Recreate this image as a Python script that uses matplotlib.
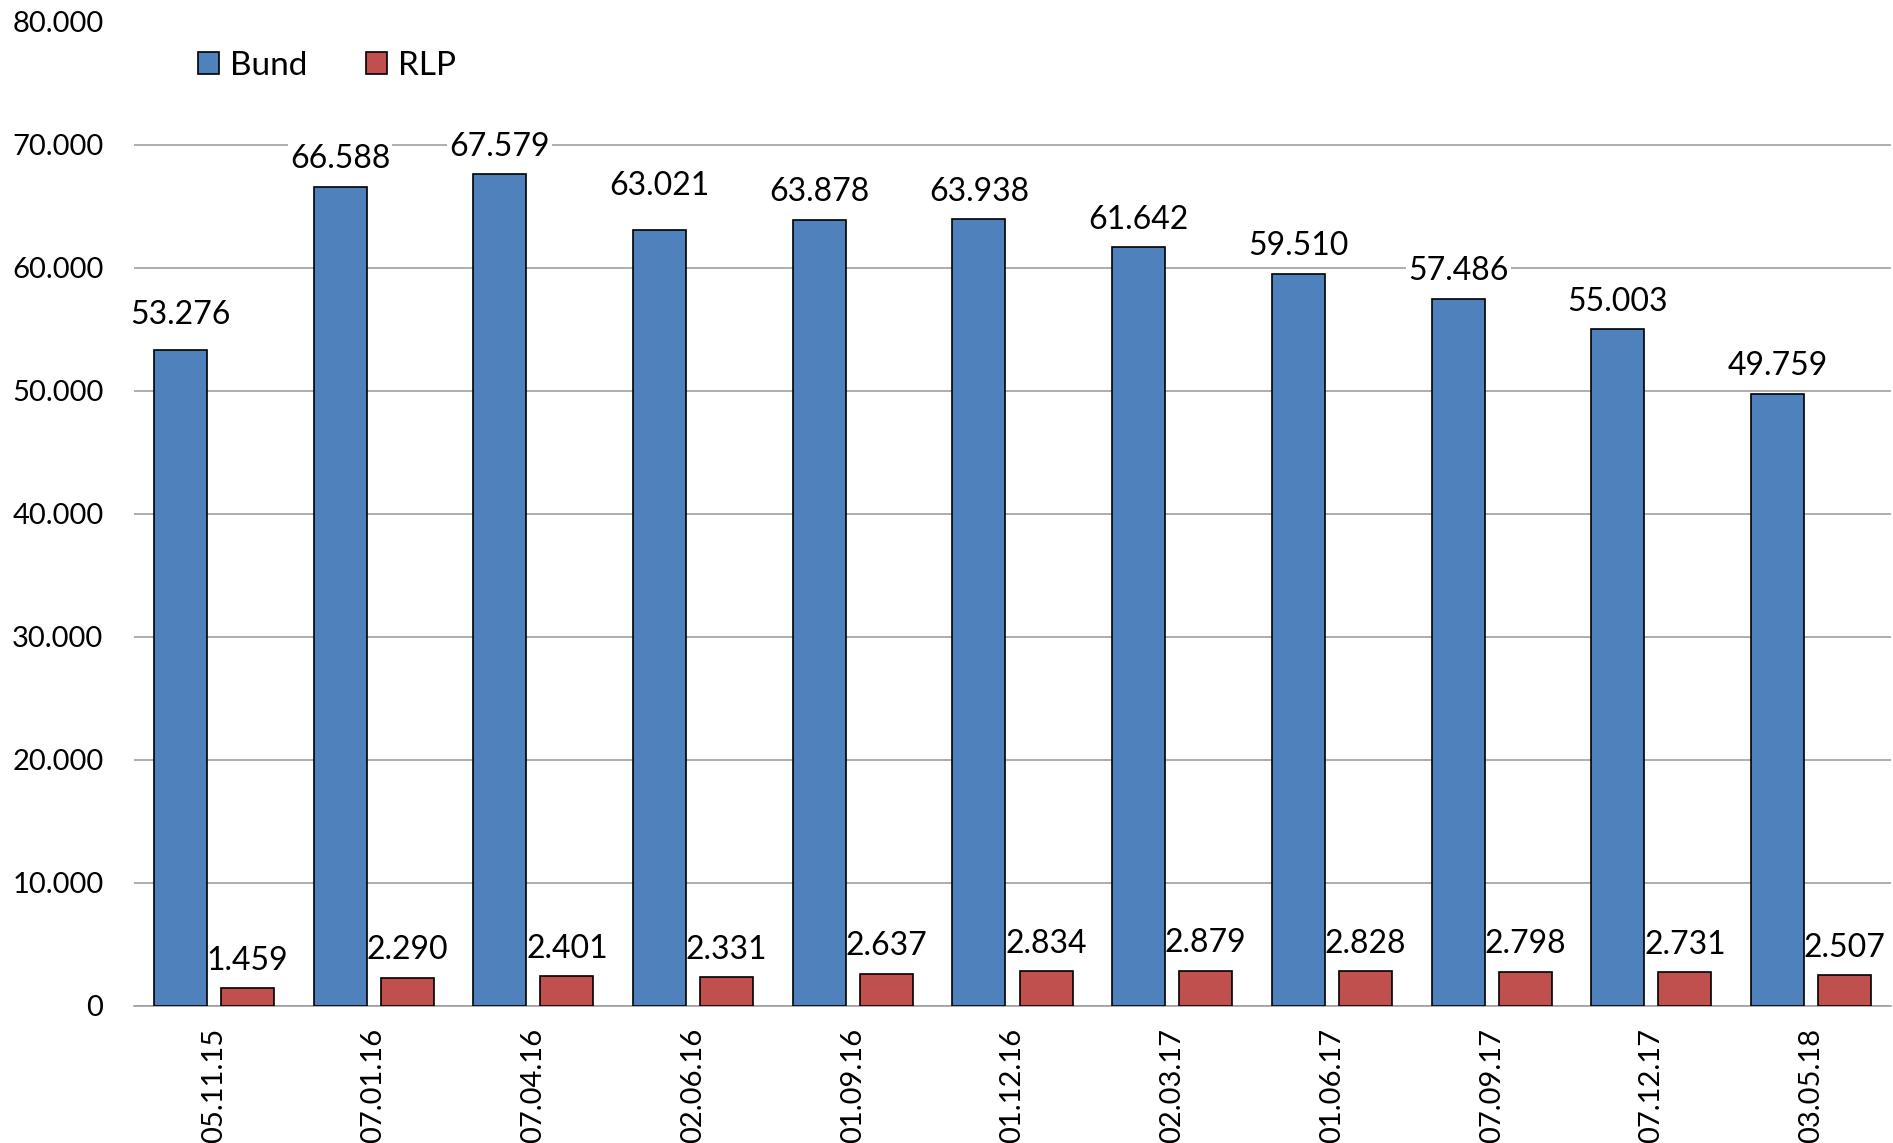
import matplotlib
matplotlib.use("Agg")
import matplotlib.pyplot as plt
import numpy as np

dates = ["05.11.15", "07.01.16", "07.04.16", "02.06.16", "01.09.16", "01.12.16",
         "02.03.17", "01.06.17", "07.09.17", "07.12.17", "03.05.18"]
bund = [53276, 66588, 67579, 63021, 63878, 63938, 61642, 59510, 57486, 55003, 49759]
rlp = [1459, 2290, 2401, 2331, 2637, 2834, 2879, 2828, 2798, 2731, 2507]
yticks = [0, 10000, 20000, 30000, 40000, 50000, 60000, 70000, 80000]

plt.rcParams['font.family'] = ['Lato', 'DejaVu Sans']
FS = 21
FS_LAB = 23
FS_LEG = 24

def de(v):
    return f"{v:,}".replace(",", ".")

fig = plt.figure(figsize=(18.93, 11.43), dpi=100)
ax = fig.add_axes([134/1893, 1-1006/1143, (1891-134)/1893, (1006-21.5)/1143])

x = np.arange(len(dates))
w = 0.332
off = 0.21
b1 = ax.bar(x - off, bund, w, color='#4F81BD', edgecolor='black', linewidth=1.2, label='Bund', zorder=3)
b2 = ax.bar(x + off, rlp, w, color='#C0504D', edgecolor='black', linewidth=1.2, label='RLP', zorder=3)

# extra label lift (points) where the original chart placed labels higher
extra = {0: 6, 3: 12}
for i, (r, v) in enumerate(zip(b1, bund)):
    ax.annotate(de(v), (r.get_x() + r.get_width()/2, v), xytext=(0, 9 + extra.get(i, 0)),
                textcoords='offset points', ha='center', va='bottom', fontsize=FS_LAB,
                zorder=2.5, bbox=dict(facecolor='white', edgecolor='none', pad=1.5))
for r, v in zip(b2, rlp):
    ax.annotate(de(v), (r.get_x() + r.get_width()/2, v), xytext=(0, 9),
                textcoords='offset points', ha='center', va='bottom', fontsize=FS_LAB,
                zorder=2.5, bbox=dict(facecolor='white', edgecolor='none', pad=1.5))

ax.set_xlim(-0.5, len(dates) - 0.5)
ax.set_ylim(0, 80000)
ax.set_yticks(yticks)
ax.set_yticklabels([de(v) for v in yticks], fontsize=FS)
ax.set_xticks(x)
ax.set_xticklabels(dates, rotation=90, fontsize=FS)
ax.tick_params(axis='both', length=0)
ax.tick_params(axis='y', pad=22)
ax.tick_params(axis='x', pad=16)
ax.yaxis.grid(True, color='#a0a0a0', linewidth=1.2, zorder=0)
ax.set_axisbelow(True)
for s in ('top', 'right', 'left'):
    ax.spines[s].set_visible(False)
ax.spines['bottom'].set_color('#a0a0a0')
ax.spines['bottom'].set_linewidth(1.2)
ax.spines['bottom'].set_zorder(2)

fig.legend(handles=[b1, b2], labels=['Bund', 'RLP'], loc='center left',
           bbox_to_anchor=(198/1893, 1-66/1143), ncol=2, frameon=False,
           fontsize=FS_LEG, handlelength=0.64, handleheight=0.64, handletextpad=0.33,
           columnspacing=1.75, borderpad=0, borderaxespad=0)

fig.savefig("out.png", dpi=100)
